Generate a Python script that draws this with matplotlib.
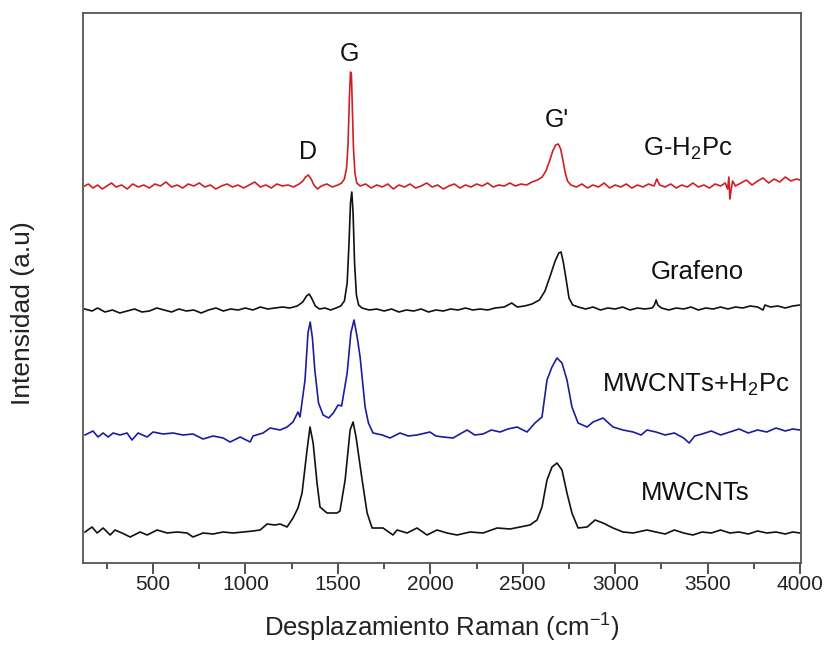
import matplotlib
matplotlib.use("Agg")
import matplotlib.pyplot as plt
from matplotlib.ticker import MultipleLocator

plt.rcParams['font.family'] = ['Liberation Sans', 'DejaVu Sans']
plt.rcParams['mathtext.fontset'] = 'custom'
plt.rcParams['mathtext.rm'] = 'Liberation Sans'

# Raman spectra: (wavenumber cm-1, intensity a.u. incl. offset)
g_h2pc = [(130, 377), (150, 379), (175, 375), (200, 378), (225, 374), (250, 377), (275, 380),
          (300, 376), (330, 378), (360, 374), (390, 379), (420, 376), (450, 378), (480, 375),
          (510, 379), (540, 377), (570, 381), (600, 376), (630, 378), (660, 375), (690, 379),
          (720, 377), (750, 380), (780, 376), (810, 378), (840, 374), (870, 377), (900, 379),
          (930, 376), (960, 378), (990, 375), (1020, 378), (1050, 381), (1080, 376), (1110, 378),
          (1140, 375), (1170, 379), (1200, 377), (1230, 378), (1260, 376), (1290, 379), (1310, 382),
          (1325, 386), (1340, 388), (1355, 384), (1370, 378), (1390, 374), (1410, 377), (1440, 379),
          (1470, 376), (1500, 378), (1520, 380), (1535, 384), (1547, 395), (1555, 420), (1562, 465),
          (1568, 491), (1573, 489), (1578, 455), (1584, 415), (1592, 390), (1602, 380), (1620, 377),
          (1650, 379), (1680, 375), (1710, 378), (1740, 376), (1770, 379), (1800, 374), (1830, 378),
          (1860, 376), (1890, 379), (1920, 375), (1950, 377), (1980, 380), (2010, 376), (2040, 378),
          (2070, 374), (2100, 377), (2130, 379), (2160, 375), (2190, 378), (2220, 376), (2250, 379),
          (2280, 377), (2310, 380), (2340, 376), (2370, 378), (2400, 377), (2430, 380), (2460, 377),
          (2490, 379), (2520, 378), (2550, 381), (2580, 383), (2605, 386), (2625, 392), (2645, 402),
          (2662, 412), (2678, 418), (2692, 419), (2705, 414), (2718, 402), (2730, 390), (2742, 382),
          (2760, 378), (2790, 376), (2820, 379), (2850, 375), (2880, 378), (2910, 376), (2940, 380),
          (2970, 375), (3000, 378), (3030, 376), (3060, 379), (3090, 375), (3120, 378), (3150, 376),
          (3180, 379), (3210, 377), (3225, 384), (3240, 378), (3270, 376), (3300, 379), (3330, 375),
          (3360, 378), (3390, 376), (3420, 380), (3450, 376), (3480, 378), (3510, 375), (3540, 379),
          (3570, 377), (3595, 380), (3608, 374), (3615, 386), (3620, 364), (3626, 372), (3635, 382),
          (3650, 377), (3680, 380), (3710, 383), (3740, 378), (3770, 382), (3800, 385), (3830, 380),
          (3860, 384), (3890, 381), (3920, 386), (3950, 382), (3980, 384), (4000, 383)]

grafeno = [(130, 254), (170, 252), (200, 255), (240, 251), (280, 253), (320, 250), (360, 252),
           (400, 254), (440, 251), (480, 252), (520, 255), (560, 253), (600, 251), (640, 254),
           (680, 252), (720, 253), (760, 250), (800, 253), (840, 255), (880, 252), (920, 254),
           (960, 253), (1000, 255), (1040, 253), (1080, 256), (1120, 254), (1160, 255), (1200, 256),
           (1240, 255), (1280, 257), (1310, 261), (1330, 267), (1345, 269), (1360, 264), (1378, 257),
           (1400, 254), (1430, 255), (1460, 253), (1490, 255), (1515, 257), (1535, 262), (1550, 280),
           (1560, 320), (1568, 360), (1575, 371), (1582, 350), (1590, 300), (1600, 268), (1612, 258),
           (1630, 255), (1670, 253), (1710, 254), (1750, 252), (1790, 254), (1830, 251), (1870, 253),
           (1910, 252), (1950, 254), (1990, 251), (2030, 253), (2070, 252), (2110, 254), (2150, 253),
           (2190, 255), (2230, 253), (2270, 254), (2310, 253), (2350, 255), (2400, 256), (2440, 260),
           (2470, 256), (2510, 257), (2550, 259), (2590, 263), (2620, 272), (2650, 288), (2675, 302),
           (2695, 310), (2707, 311), (2720, 300), (2735, 283), (2750, 265), (2770, 258), (2800, 256),
           (2840, 254), (2880, 256), (2920, 253), (2960, 255), (3000, 254), (3040, 256), (3080, 253),
           (3120, 255), (3160, 254), (3200, 255), (3212, 258), (3221, 263), (3230, 258), (3250, 255),
           (3290, 253), (3330, 255), (3370, 254), (3410, 256), (3450, 253), (3490, 255), (3530, 254),
           (3570, 256), (3610, 254), (3650, 256), (3690, 255), (3730, 257), (3770, 256), (3800, 253),
           (3810, 258), (3840, 256), (3880, 257), (3920, 255), (3960, 257), (4000, 258)]

mwcnt_h2pc = [(132, 128), (175, 132), (202, 126), (230, 130), (257, 126), (284, 130), (321, 128),
              (359, 130), (386, 123), (419, 130), (468, 126), (500, 131), (554, 129), (608, 130),
              (662, 128), (716, 129), (770, 124), (825, 127), (879, 125), (917, 121), (971, 126),
              (1025, 121), (1041, 127), (1095, 130), (1133, 135), (1187, 133), (1225, 136), (1257, 141),
              (1284, 151), (1295, 146), (1322, 183), (1338, 230), (1350, 241), (1362, 225), (1375, 193),
              (1395, 160), (1420, 148), (1450, 145), (1475, 150), (1501, 158), (1520, 157), (1550, 190),
              (1570, 230), (1587, 243), (1605, 225), (1620, 206), (1647, 156), (1665, 140), (1690, 130),
              (1740, 128), (1782, 125), (1836, 130), (1880, 127), (1928, 128), (1998, 131), (2030, 127),
              (2069, 126), (2123, 125), (2160, 129), (2199, 133), (2240, 128), (2285, 129), (2330, 133),
              (2377, 131), (2420, 134), (2469, 136), (2523, 131), (2566, 140), (2604, 146), (2631, 183),
              (2658, 196), (2685, 205), (2712, 200), (2739, 183), (2766, 156), (2799, 140), (2848, 136),
              (2880, 141), (2934, 145), (2988, 136), (3042, 133), (3097, 131), (3140, 128), (3172, 133),
              (3220, 131), (3270, 128), (3320, 130), (3370, 125), (3400, 120), (3430, 127), (3470, 129),
              (3520, 132), (3570, 128), (3620, 131), (3670, 134), (3720, 130), (3770, 133), (3820, 131),
              (3870, 135), (3920, 132), (3960, 134), (4000, 133)]

mwcnt = [(132, 31), (170, 36), (197, 30), (230, 35), (268, 28), (294, 33), (332, 30), (376, 26),
         (430, 31), (468, 28), (522, 33), (576, 30), (630, 31), (684, 30), (716, 26), (770, 30),
         (825, 29), (879, 31), (933, 30), (987, 31), (1041, 32), (1079, 33), (1117, 39), (1160, 38),
         (1187, 39), (1225, 36), (1257, 45), (1284, 55), (1306, 70), (1333, 113), (1349, 136),
         (1366, 120), (1387, 80), (1403, 56), (1441, 50), (1495, 50), (1511, 52), (1539, 83),
         (1566, 133), (1582, 141), (1598, 126), (1631, 83), (1658, 50), (1685, 35), (1744, 35),
         (1798, 28), (1820, 33), (1874, 30), (1928, 35), (1982, 28), (2036, 33), (2090, 30),
         (2144, 28), (2215, 31), (2285, 30), (2361, 35), (2431, 34), (2485, 36), (2539, 38),
         (2577, 43), (2604, 56), (2631, 83), (2658, 96), (2685, 100), (2712, 93), (2739, 70),
         (2766, 50), (2799, 35), (2848, 36), (2891, 43), (2934, 40), (2988, 35), (3042, 31),
         (3097, 30), (3172, 33), (3220, 31), (3270, 29), (3320, 33), (3370, 30), (3420, 28),
         (3470, 31), (3520, 30), (3570, 33), (3620, 30), (3670, 31), (3720, 29), (3770, 32),
         (3820, 30), (3870, 31), (3920, 29), (3960, 31), (4000, 30)]

spectra = [g_h2pc, grafeno, mwcnt_h2pc, mwcnt]
colors = ['#d01f24', '#111111', '#1c1ca0', '#111111']
names = [r'G-H$\mathregular{_2}$Pc', 'Grafeno', r'MWCNTs+H$\mathregular{_2}$Pc', 'MWCNTs']
name_pos = [(3390, 414), (3443, 291), (3438, 178), (3432, 70)]

peak_names = ['D', 'G', "G'"]
peak_pos = [(1340, 411), (1560, 509), (2685, 443)]

fig = plt.figure(figsize=(8.29, 6.45), dpi=100)
ax = fig.add_axes([83 / 829, 1 - 563 / 645, 718 / 829, 550 / 645])

for pts, c in zip(spectra, colors):
    x, y = zip(*pts)
    ax.plot(x, y, color=c, lw=1.2)

for txt, (px, py) in zip(names, name_pos):
    ax.text(px, py, txt, ha='center', va='center', fontsize=18.5, color='#111111')

for txt, (px, py) in zip(peak_names, peak_pos):
    ax.text(px, py, txt, ha='center', va='center', fontsize=18, color='#111111')

ax.set_xlim(121, 4005)
ax.set_ylim(0, 550)
ax.set_yticks([])
ax.xaxis.set_major_locator(MultipleLocator(500))
ax.xaxis.set_minor_locator(MultipleLocator(250))
ax.tick_params(axis='x', which='major', direction='out', length=8, width=1.2,
               labelsize=15, pad=1, colors='#333333')
ax.tick_params(axis='x', which='minor', direction='out', length=4, width=1.2, colors='#333333')
ax.tick_params(axis='x', labelcolor='#222222')
for s in ax.spines.values():
    s.set_color('#555555')
    s.set_linewidth(1.3)

ax.set_xlabel(r'Desplazamiento Raman (cm$\mathregular{^{-1}}$)', fontsize=18.5, va='center', color='#222222')
ax.xaxis.set_label_coords(0.5, -0.118)
ax.set_ylabel('Intensidad (a.u)', fontsize=19, va='center', color='#222222')
ax.yaxis.set_label_coords(-0.084, 0.455)

fig.savefig('out.png', dpi=100)
